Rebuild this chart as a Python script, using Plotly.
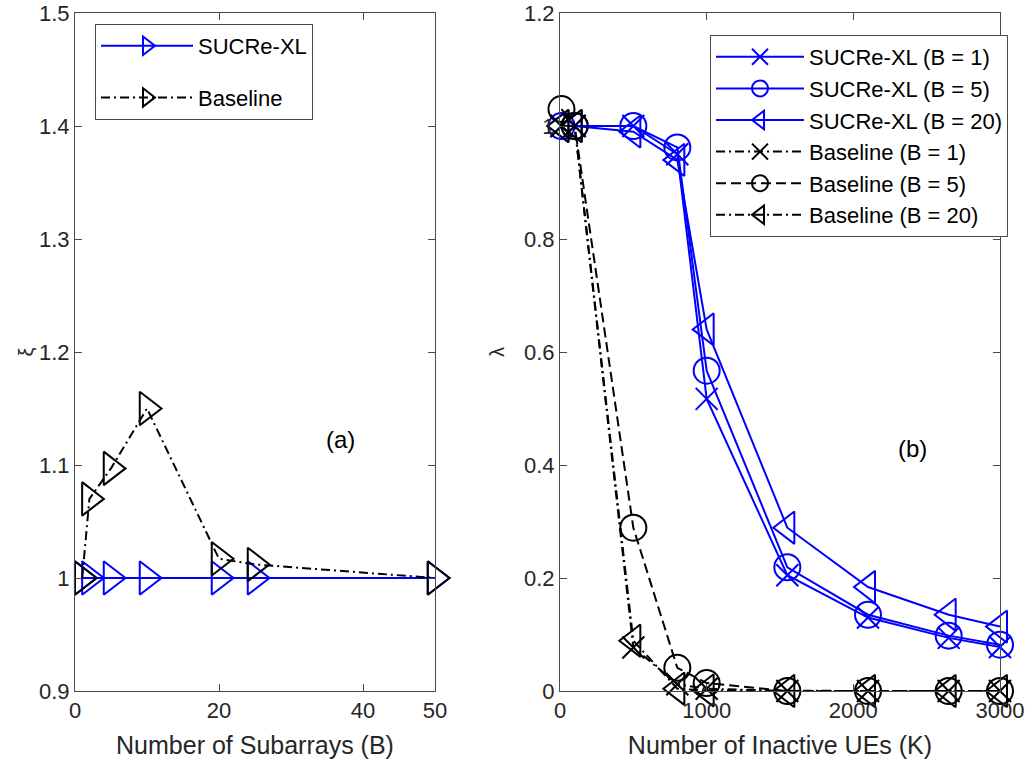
import plotly.graph_objects as go

# ---- data -------------------------------------------------------------
# (a) normalised metric xi versus number of subarrays B
subarrays_B = [1, 2, 5, 10, 20, 25, 50]
xi_sucre = [1.0, 1.0, 1.0, 1.0, 1.0, 1.0, 1.0]
xi_baseline = [1.0, 1.07, 1.097, 1.15, 1.017, 1.012, 1.0]

# (b) lambda versus number of inactive UEs K
inactive_K = [10, 100, 500, 800, 1000, 1550, 2100, 2650, 3000]
lam_sucre_b1 = [1.0, 1.0, 1.0, 0.95, 0.517, 0.205, 0.130, 0.094, 0.078]
lam_sucre_b5 = [1.0, 1.0, 1.0, 0.962, 0.567, 0.219, 0.135, 0.098, 0.082]
lam_sucre_b20 = [1.0, 1.0, 0.99, 0.94, 0.64, 0.289, 0.184, 0.135, 0.114]
lam_base_b1 = [1.0, 1.0, 0.077, 0.012, 0.004, 0.0, 0.0, 0.0, 0.0]
lam_base_b5 = [1.03, 1.0, 0.289, 0.041, 0.014, 0.0, 0.0, 0.0, 0.0]
lam_base_b20 = [1.0, 1.0, 0.089, 0.004, 0.001, 0.0, 0.0, 0.0, 0.0]

left_xticks = [0, 20, 40, 50]
left_yticks = [0.9, 1.0, 1.1, 1.2, 1.3, 1.4, 1.5]
left_yticklabels = ["0.9", "1", "1.1", "1.2", "1.3", "1.4", "1.5"]
right_xticks = [0, 1000, 2000, 3000]
right_yticks = [0, 0.2, 0.4, 0.6, 0.8, 1.0, 1.2]
right_yticklabels = ["0", "0.2", "0.4", "0.6", "0.8", "1", "1.2"]

# ---- styling ----------------------------------------------------------
BLUE = "#0000ff"
BLACK = "#000000"
AXIS = "#4a4a4a"
TXT = "#262626"
FONT = "Liberation Sans, Arial, sans-serif"
DASHDOT = "9px,4px,2px,4px"
DASHED = "10px,5px"

fig = go.Figure()


def add(x, y, name, color, dash, symbol, size, xa, ya, legend, group=None):
    fig.add_trace(go.Scatter(
        x=x, y=y, name=name, mode="lines+markers",
        xaxis=xa, yaxis=ya, legend=legend, legendgroup=group,
        cliponaxis=False,
        line=dict(color=color, width=2, dash=dash),
        marker=dict(symbol=symbol, size=size, color=color,
                    line=dict(color=color, width=2)),
    ))


# panel (a)
add(subarrays_B, xi_sucre, "SUCRe-XL", BLUE, "solid", "triangle-right-open", 29, "x", "y", "legend", "a1")
add(subarrays_B, xi_baseline, "Baseline", BLACK, DASHDOT, "triangle-right-open", 29, "x", "y", "legend", "a2")

# panel (b)
add(inactive_K, lam_sucre_b1, "SUCRe-XL (B = 1)", BLUE, "solid", "x-thin-open", 22, "x2", "y2", "legend2")
add(inactive_K, lam_sucre_b5, "SUCRe-XL (B = 5)", BLUE, "solid", "circle-open", 26, "x2", "y2", "legend2")
add(inactive_K, lam_sucre_b20, "SUCRe-XL (B = 20)", BLUE, "solid", "triangle-left-open", 28, "x2", "y2", "legend2")
add(inactive_K, lam_base_b1, "Baseline (B = 1)", BLACK, DASHDOT, "x-thin-open", 22, "x2", "y2", "legend2")
add(inactive_K, lam_base_b5, "Baseline (B = 5)", BLACK, DASHED, "circle-open", 26, "x2", "y2", "legend2")
add(inactive_K, lam_base_b20, "Baseline (B = 20)", BLACK, DASHDOT, "triangle-left-open", 28, "x2", "y2", "legend2")

axis_common = dict(
    showline=True, linecolor=AXIS, linewidth=1, mirror="ticks",
    ticks="inside", ticklen=7, tickcolor=AXIS, tickwidth=1,
    showgrid=False, zeroline=False, automargin=False,
    tickfont=dict(family=FONT, size=22, color=TXT),
)

W, H = 1032, 767
ML, MR, MT, MB = 75, 32, 13, 76
PW = W - ML - MR
PH = H - MT - MB

fig.update_layout(
    width=W, height=H,
    margin=dict(l=ML, r=MR, t=MT, b=MB),
    paper_bgcolor="white", plot_bgcolor="white",
    font=dict(family=FONT, color=TXT),
    xaxis=dict(axis_common, domain=[0, 360 / PW], range=[0, 50],
               tickvals=left_xticks, anchor="y",
               title=dict(text="Number of Subarrays (B)", standoff=14,
                          font=dict(family=FONT, size=25, color=TXT))),
    yaxis=dict(axis_common, domain=[0, 1], range=[0.9, 1.5],
               tickvals=left_yticks, ticktext=left_yticklabels, anchor="x",
               title=dict(text="ξ", standoff=0,
                          font=dict(family=FONT, size=20, color=TXT))),
    xaxis2=dict(axis_common, domain=[485 / PW, 1], range=[0, 3000],
                tickvals=right_xticks, anchor="y2",
                title=dict(text="Number of Inactive UEs (K)", standoff=14,
                           font=dict(family=FONT, size=25, color=TXT))),
    yaxis2=dict(axis_common, domain=[0, 1], range=[0, 1.2],
                tickvals=right_yticks, ticktext=right_yticklabels, anchor="x2",
                title=dict(text="λ", standoff=14,
                           font=dict(family=FONT, size=20, color=TXT))),
    legend=dict(x=(95 - ML) / PW, y=(H - MB - 24) / PH,
                xanchor="left", yanchor="top",
                bgcolor="white", bordercolor=AXIS, borderwidth=1,
                font=dict(family=FONT, size=22, color=BLACK),
                traceorder="grouped", tracegroupgap=20,
                itemwidth=92),
    legend2=dict(x=(710 - ML) / PW, y=(H - MB - 35) / PH,
                 xanchor="left", yanchor="top",
                 bgcolor="white", bordercolor=AXIS, borderwidth=1,
                 font=dict(family=FONT, size=22, color=BLACK),
                 itemwidth=88),
    annotations=[
        dict(text="(a)", xref="x", yref="y", x=36.9, y=1.123, showarrow=False,
             font=dict(family=FONT, size=24, color=BLACK)),
        dict(text="(b)", xref="x2", yref="y2", x=2400, y=0.43, showarrow=False,
             font=dict(family=FONT, size=24, color=BLACK)),
    ],
    showlegend=True,
)

fig.write_html("out.html")
